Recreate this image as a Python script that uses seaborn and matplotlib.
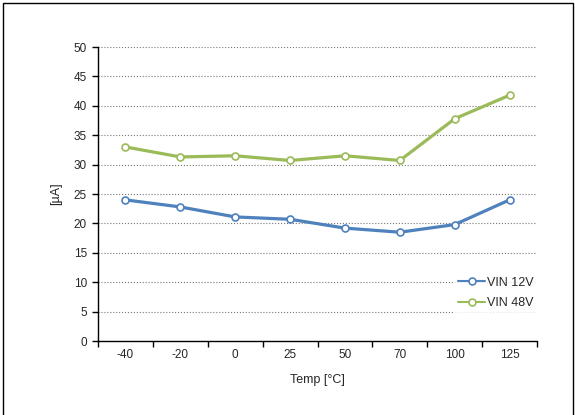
import numpy as np
import pandas as pd
import matplotlib
matplotlib.use("Agg")
import matplotlib.pyplot as plt
import seaborn as sns
from matplotlib.patches import Rectangle

temps = ["-40", "-20", "0", "25", "50", "70", "100", "125"]
vin_12v = [24.0, 22.8, 21.1, 20.7, 19.2, 18.5, 19.8, 24.0]
vin_48v = [33.0, 31.3, 31.5, 30.7, 31.5, 30.7, 37.8, 41.8]
series_names = ["VIN 12V", "VIN 48V"]
colors = ["#4F81BD", "#9BBB59"]

sns.set_style("white")
plt.rcParams["font.family"] = ["Liberation Sans", "DejaVu Sans"]

fig = plt.figure(figsize=(5.75, 4.15), dpi=100)
ax = fig.add_axes([98 / 575, 1 - 341 / 415, (537 - 98) / 575, (341 - 47) / 415])

pos = np.arange(len(temps))
for name, vals, col in zip(series_names, [vin_12v, vin_48v], colors):
    sns.lineplot(x=pos, y=vals, ax=ax, color=col, lw=2.3, marker="o", ms=5,
                 mfc="white", mec=col, mew=1.2, label=name)

ax.set_xlim(-0.5, len(temps) - 0.5)
ax.set_ylim(0, 50)
ax.set_yticks(range(0, 51, 5))
ax.yaxis.grid(True, linestyle=":", color="#777777", lw=0.8)
ax.set_axisbelow(True)

# category boundaries get the tick marks, labels sit in the middle
ax.set_xticks(np.arange(-0.5, len(temps), 1))
ax.set_xticklabels([])
ax.set_xticks(pos, minor=True)
ax.set_xticklabels(temps, minor=True)
ax.tick_params(axis="x", which="major", length=4, width=1, color="black", direction="out")
ax.tick_params(axis="x", which="minor", length=0, pad=6, labelsize=8.5)
ax.tick_params(axis="y", length=4, width=1, color="black", direction="out", labelsize=8.5, pad=4)
ax.tick_params(bottom=True, left=True)

for s in ["top", "right"]:
    ax.spines[s].set_visible(False)
for s in ["left", "bottom"]:
    ax.spines[s].set_color("black")
    ax.spines[s].set_linewidth(1)

ax.set_xlabel("Temp [°C]", fontsize=9, labelpad=9)
ax.set_ylabel("[µA]", fontsize=9, labelpad=8)

leg = ax.legend(loc="lower right", bbox_to_anchor=(1.0, 0.095), frameon=True,
                fontsize=9, handlelength=2.2, handletextpad=0.1, borderpad=0.3,
                labelspacing=0.7, borderaxespad=0.0, fancybox=False)
leg.get_frame().set_edgecolor("white")
leg.get_frame().set_facecolor("white")
for line in leg.get_lines():
    line.set_linewidth(1.5)

fig.patches.append(Rectangle((3 / 575, -0.05), 570 / 575, 1.05 - 3 / 415,
                             transform=fig.transFigure, fill=False,
                             edgecolor="black", lw=1))

fig.savefig("out.png", dpi=100)
